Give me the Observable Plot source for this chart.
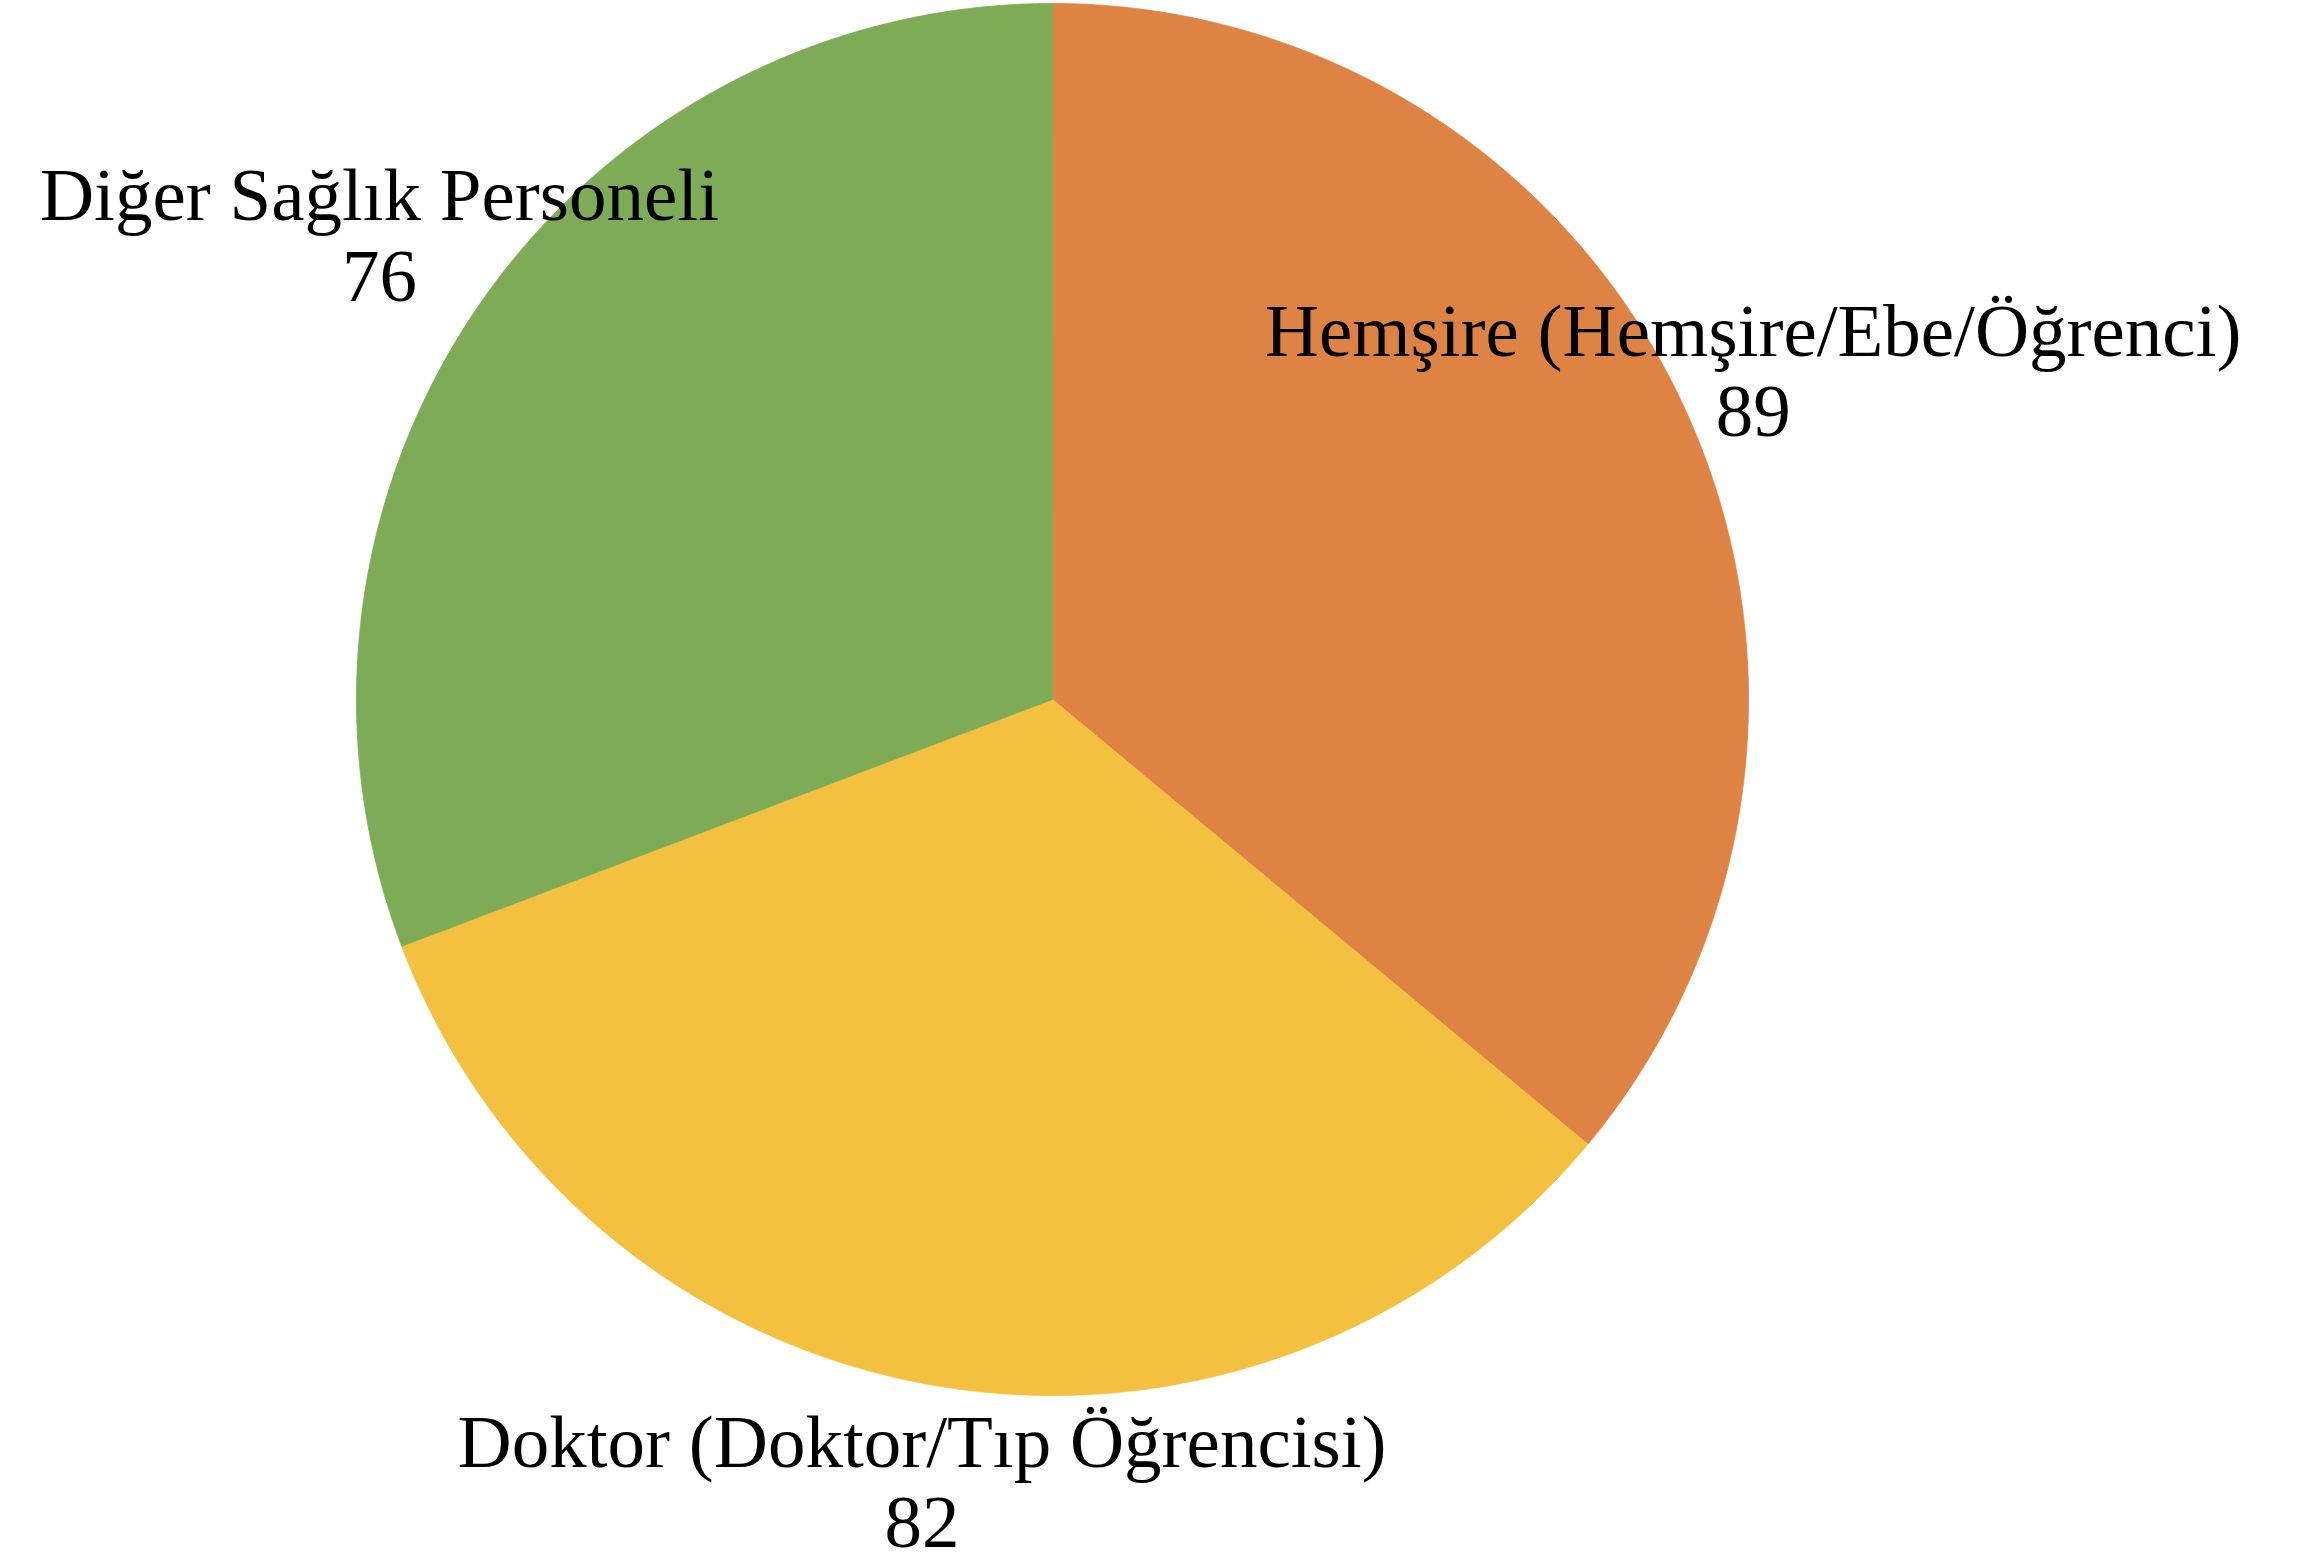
<!DOCTYPE html>
<html>
<head>
<meta charset="utf-8">
<script src="https://cdn.jsdelivr.net/npm/d3@7"></script>
<script src="https://cdn.jsdelivr.net/npm/@observablehq/plot@0.6"></script>
<style>
  html, body { margin: 0; padding: 0; background: #ffffff; }
  #chart svg { display: block; }
</style>
</head>
<body>
<div id="chart"></div>
<script>
// ---- Data ----
const categories = ["Hemşire (Hemşire/Ebe/Öğrenci)", "Doktor (Doktor/Tıp Öğrencisi)", "Diğer Sağlık Personeli"];
const values = [89, 82, 76];
const colors = ["#DE8344", "#F4C03F", "#7EAB55"];

// ---- Layout constants ----
const W = 2304, H = 1567;
const cx = 1052, cy = 699, R = 696;
const labelRadius = [1.112, 1.139, 1.175]; // label distance (in radii) per slice
const fontSize = 75;

// ---- Build slice outlines via d3.pie ----
const rows = categories.map((name, i) => ({name, value: values[i]}));
const arcs = d3.pie().sort(null).value(d => d.value)(rows);

const pts = [];
arcs.forEach(a => {
  const name = a.data.name;
  pts.push({name, x: 0, y: 0});
  const n = Math.max(2, Math.ceil((a.endAngle - a.startAngle) / (Math.PI / 720)));
  for (let k = 0; k <= n; k++) {
    const t = a.startAngle + (a.endAngle - a.startAngle) * k / n;
    pts.push({name, x: Math.sin(t), y: Math.cos(t)});
  }
});

const labels = arcs.map((a, i) => {
  const m = (a.startAngle + a.endAngle) / 2;
  const r = labelRadius[i];
  return {text: `${a.data.name}\n${a.data.value}`, x: r * Math.sin(m), y: r * Math.cos(m)};
});

const chart = Plot.plot({
  width: W,
  height: H,
  margin: 0,
  style: {background: "#ffffff", fontFamily: "'Liberation Serif', 'Times New Roman', serif"},
  x: {domain: [-1, 1], range: [cx - R, cx + R], axis: null},
  y: {domain: [-1, 1], range: [cy + R, cy - R], axis: null},
  color: {domain: categories, range: colors, legend: false},
  marks: [
    Plot.line(pts, {x: "x", y: "y", z: "name", fill: "name", stroke: "name", strokeWidth: 0.8, curve: "linear-closed"}),
    Plot.text(labels, {
      x: "x", y: "y", text: "text",
      fontSize, lineHeight: 1.07, fill: "#000000",
      textAnchor: "middle", lineAnchor: "middle",
      fontFamily: "'Liberation Serif', 'Times New Roman', serif"
    })
  ]
});
document.getElementById("chart").appendChild(chart);
</script>
</body>
</html>
